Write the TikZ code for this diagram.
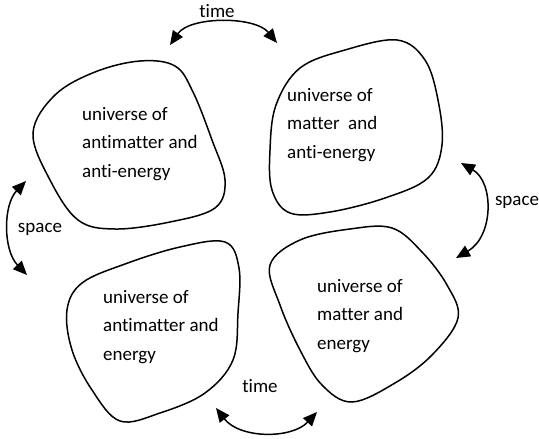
\documentclass[tikz,border=0pt]{standalone}
\usepackage{fontspec}
\setmainfont[Ligatures={NoCommon,NoContextual}]{Carlito}
\usetikzlibrary{arrows.meta}
\tikzset{
  blob/.style={draw=black, line width=1.5pt},
  label/.style={inner sep=0pt, align=left, anchor=west, font=\fontsize{19}{28.5}\selectfont},
  lbl/.style={inner sep=0pt, font=\fontsize{19}{23}\selectfont},
  twoway/.style={line width=1.5pt, {Triangle[length=14pt,width=12pt]}-{Triangle[length=14pt,width=12pt]}}
}
\begin{document}
\begin{tikzpicture}[x=1pt,y=-1pt]
\useasboundingbox (0,0) rectangle (539,439);
% blobs
\draw[blob] plot[smooth cycle, tension=0.6] coordinates {(33,133) (55,95) (95,72) (140,61) (175,66) (193,92) (212,140) (225,180) (215,208) (170,222) (115,229) (78,220) (50,180)};
\draw[blob] plot[smooth cycle, tension=0.6] coordinates {(397,40) (425,60) (438,100) (442,145) (428,178) (385,198) (330,212) (290,213) (272,190) (270,150) (276,105) (300,68) (345,50)};
\draw[blob] plot[smooth cycle, tension=0.6] coordinates {(225,242) (239,268) (238,313) (233,360) (205,393) (160,413) (120,421) (92,390) (72,350) (67,310) (82,283) (125,264) (180,247)};
\draw[blob] plot[smooth cycle, tension=0.6] coordinates {(270,265) (300,240) (350,229) (392,228) (422,252) (447,285) (458,318) (432,355) (395,383) (352,402) (322,385) (300,350) (280,305)};
% texts
\node[label] (tl) at (82,144) {universe of\\antimatter and\\anti-energy};
\node[label] (tr) at (287,125) {universe of\\matter\ \ and\\anti-energy};
\node[label] (bl) at (103,327) {universe of\\antimatter and\\energy};
\node[label] (br) at (317,316) {universe of\\matter and\\energy};
% arrow ends
\coordinate (t1a) at (170,45); \coordinate (t1b) at (277,43);
\coordinate (s1a) at (461,163); \coordinate (s1b) at (456,258);
\coordinate (s2a) at (26,181); \coordinate (s2b) at (27,275);
\coordinate (t2a) at (216,408); \coordinate (t2b) at (317,412);
\draw[twoway] (t1a) .. controls (190,16) and (255,16) .. (t1b);
\draw[twoway] (s1a) .. controls (494,182) and (494,236) .. (s1b);
\draw[twoway] (s2a) .. controls (3,205) and (3,250) .. (s2b);
\draw[twoway] (t2a) .. controls (240,439) and (292,439) .. (t2b);
% labels
\node[lbl] (time1) at (217,11) {time};
\node[lbl] (space1) at (517,202) {space};
\node[lbl] (space2) at (40,229) {space};
\node[lbl] (time2) at (260,386) {time};
\end{tikzpicture}
\end{document}
